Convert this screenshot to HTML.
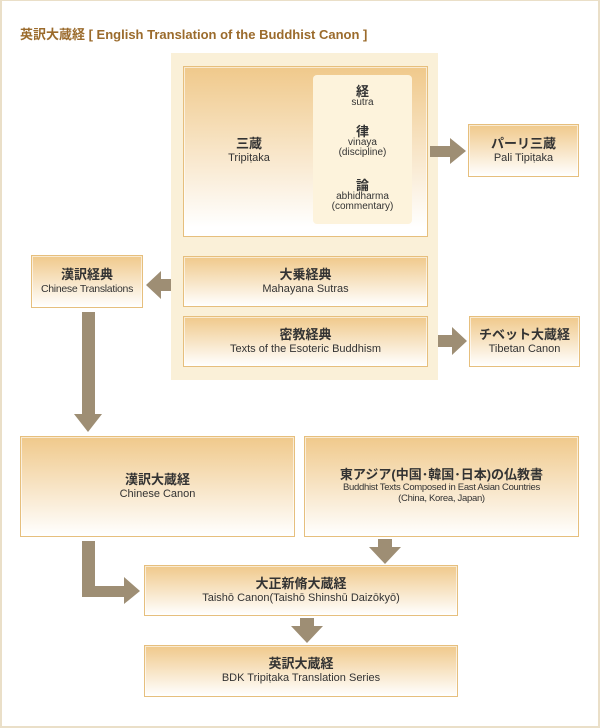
<!DOCTYPE html>
<html><head><meta charset="utf-8"><style>
*{margin:0;padding:0;box-sizing:border-box}
body{width:600px;height:728px;background:#fff;position:relative;overflow:hidden;font-family:"Liberation Sans","Noto Sans CJK JP",sans-serif;color:#333}
.frame{position:absolute;left:0;top:0;width:600px;height:728px;border:2px solid #eadfc8;border-top-width:1px}
.title{position:absolute;left:20px;top:24px;font-size:13px;font-weight:bold;color:#9b6b2c;white-space:nowrap}
.panel{position:absolute;left:171px;top:53px;width:267px;height:327px;background:#faf0d8}
.box{position:absolute;border:1px solid #e6bf7d;background:linear-gradient(#f0c98b,#fff);text-align:center;display:flex;flex-direction:column;justify-content:center;align-items:center;line-height:1.15}
.box::before{content:"";position:absolute;inset:0;border:1px solid rgba(255,255,255,.6)}
.j{font-size:13px;font-weight:bold;color:#333}
.e{font-size:11px;color:#333}
.s{font-size:9.5px}
.inner{position:absolute;left:313px;top:75px;width:99px;height:149px;background:#fdf3dc;border-radius:4px;text-align:center;line-height:1.0}
.inner .e{font-size:10px}
svg{position:absolute;left:0;top:0}
</style></head><body>
<div class="frame"></div>
<div class="title">英訳大蔵経 [ English Translation of the Buddhist Canon ]</div>
<div class="panel"></div>
<div class="box" style="left:183px;top:66px;width:245px;height:171px;background:linear-gradient(#f0c98b,#fff 95%)"><div style="position:absolute;left:0;width:130px;top:70px"><div class="j">三蔵</div><div class="e">Tripiṭaka</div></div></div>
<div class="inner">
<div class="j" style="margin-top:10px">経</div><div class="e">sutra</div>
<div class="j" style="margin-top:17px">律</div><div class="e">vinaya<br>(discipline)</div>
<div class="j" style="margin-top:21px">論</div><div class="e">abhidharma<br>(commentary)</div>
</div>
<div class="box" style="left:468px;top:124px;width:111px;height:53px"><div class="j">パーリ三蔵</div><div class="e">Pali Tipiṭaka</div></div>
<div class="box" style="left:183px;top:256px;width:245px;height:51px"><div class="j">大乗経典</div><div class="e">Mahayana Sutras</div></div>
<div class="box" style="left:183px;top:316px;width:245px;height:51px"><div class="j">密教経典</div><div class="e">Texts of the Esoteric Buddhism</div></div>
<div class="box" style="left:31px;top:255px;width:112px;height:53px"><div class="j">漢訳経典</div><div class="e" style="font-size:10.5px;letter-spacing:-.3px">Chinese Translations</div></div>
<div class="box" style="left:469px;top:316px;width:111px;height:51px"><div class="j">チベット大蔵経</div><div class="e">Tibetan Canon</div></div>
<div class="box" style="left:20px;top:436px;width:275px;height:101px"><div class="j">漢訳大蔵経</div><div class="e">Chinese Canon</div></div>
<div class="box" style="left:304px;top:436px;width:275px;height:101px"><div class="j">東アジア(中国･韓国･日本)の仏教書</div><div class="e s" style="letter-spacing:-.3px">Buddhist Texts Composed in East Asian Countries<br>(China, Korea, Japan)</div></div>
<div class="box" style="left:144px;top:565px;width:314px;height:51px"><div class="j">大正新脩大蔵経</div><div class="e">Taishō Canon(Taishō Shinshū Daizōkyō)</div></div>
<div class="box" style="left:144px;top:645px;width:314px;height:52px"><div class="j">英訳大蔵経</div><div class="e">BDK Tripiṭaka Translation Series</div></div>
<svg width="600" height="728" fill="#9e8e74">
<polygon points="430,146 450,146 450,138 466,151 450,164 450,157 430,157"/>
<polygon points="171,279 161,279 161,271 146,285 161,299 161,291 171,291"/>
<polygon points="438,335 452,335 452,327 467,341 452,355 452,347 438,347"/>
<polygon points="82,312 95,312 95,414 102,414 88,432 74,414 82,414"/>
<polygon points="378,539 392,539 392,547 401,547 385,564 369,547 378,547"/>
<polygon points="300,618 314,618 314,626 323,626 307,643 291,626 300,626"/>
<polygon points="82,541 95,541 95,586 124,586 124,577 140,591 124,604 124,597 82,597"/>
</svg>
</body></html>
